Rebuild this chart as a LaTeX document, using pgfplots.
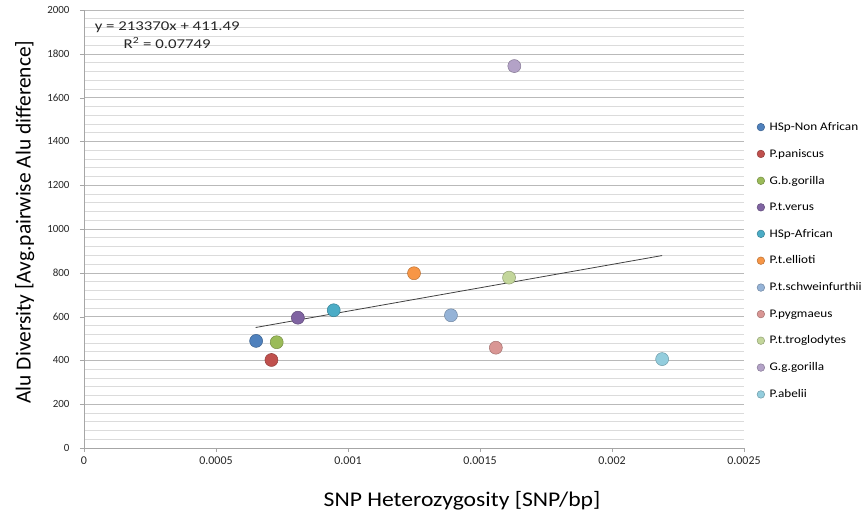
\documentclass[border=0pt]{standalone}
\usepackage{pgfplots}
\pgfplotsset{compat=1.18}
\usepackage{fontspec}
\setmainfont{Carlito}
\newfontfamily\widefont{Carlito}[FakeStretch=1.13]
\newfontfamily\widerfont{Carlito}[FakeStretch=1.25]

\definecolor{cA}{HTML}{4F81BD}
\definecolor{cB}{HTML}{C0504D}
\definecolor{cC}{HTML}{9BBB59}
\definecolor{cD}{HTML}{8064A2}
\definecolor{cE}{HTML}{4BACC6}
\definecolor{cF}{HTML}{F79646}
\definecolor{cG}{HTML}{95B3D7}
\definecolor{cH}{HTML}{D99694}
\definecolor{cI}{HTML}{C3D69B}
\definecolor{cJ}{HTML}{B3A2C7}
\definecolor{cK}{HTML}{93CDDD}

\pgfplotsset{
  sp/.style={only marks, mark=*, mark size=6.5bp,
    mark options={fill=#1, draw=#1!75!black, line width=0.5pt}},
}

\begin{document}
\begin{tikzpicture}
\begin{axis}[
  scale only axis,
  width=660bp, height=438bp,
  xmin=0, xmax=0.0025, ymin=0, ymax=2000,
  axis x line*=bottom, axis y line*=left,
  axis line style={draw=gray!70},
  xtick={0,0.0005,0.001,0.0015,0.002,0.0025},
  xticklabels={0,0.0005,0.001,0.0015,0.002,0.0025},
  ytick={0,200,...,2000},
  minor y tick num=4,
  ymajorgrids, yminorgrids,
  major grid style={draw=gray!55, line width=0.6pt},
  minor grid style={draw=gray!28, line width=0.6pt},
  major tick length=4bp, minor tick length=0pt,
  tick style={draw=gray!70},
  tick align=outside,
  scaled x ticks=false,
  /pgf/number format/assume math mode=true,
  /pgf/number format/1000 sep={},
  xticklabel style={font=\fontsize{12}{14}\selectfont, text=black!85, yshift=-1bp},
  yticklabel style={font=\fontsize{11}{13}\selectfont, text=black!85, xshift=-7bp},
  xlabel={SNP Heterozygosity [SNP/bp]},
  ylabel={Alu Diversity [Avg.pairwise Alu difference]},
  xlabel style={font=\widefont\fontsize{21}{24}\selectfont, yshift=-20bp, xshift=48bp},
  ylabel style={font=\fontsize{21.5}{24}\selectfont, yshift=6bp, xshift=7bp},
  legend cell align=left,
  legend style={at={(1.015,0.753)}, anchor=north west, draw=none, fill=none,
    font=\widefont\fontsize{11.7}{13}\selectfont, row sep=13.3bp,
    /tikz/every odd column/.append style={column sep=3bp}},
  legend image code/.code={\draw[#1, mark size=3.8bp, line width=0.3pt] plot coordinates {(0.14cm,0cm)};},
  clip=false,
]
% linear fit over the data range
\addplot[forget plot, draw=black!75, line width=0.8pt] coordinates {(0.00065,550.2) (0.00219,878.8)};

\addplot[sp=cA] coordinates {(0.000652,489)};
\addlegendentry{HSp-Non African}
\addplot[sp=cB] coordinates {(0.000710,402)};
\addlegendentry{P.paniscus}
\addplot[sp=cC] coordinates {(0.000730,483)};
\addlegendentry{G.b.gorilla}
\addplot[sp=cD] coordinates {(0.000810,595)};
\addlegendentry{P.t.verus}
\addplot[sp=cE] coordinates {(0.000946,629)};
\addlegendentry{HSp-African}
\addplot[sp=cF] coordinates {(0.001250,798)};
\addlegendentry{P.t.ellioti}
\addplot[sp=cG] coordinates {(0.001390,606)};
\addlegendentry{P.t.schweinfurthii}
\addplot[sp=cH] coordinates {(0.001560,458)};
\addlegendentry{P.pygmaeus}
\addplot[sp=cI] coordinates {(0.001610,778)};
\addlegendentry{P.t.troglodytes}
\addplot[sp=cJ] coordinates {(0.001630,1744)};
\addlegendentry{G.g.gorilla}
\addplot[sp=cK] coordinates {(0.002190,406)};
\addlegendentry{P.abelii}

\node[align=center, font=\widerfont\fontsize{13.5}{18}\selectfont, text=black!85]
  at (axis cs:0.000315,1884) {y = 213370x + 411.49\\R\textsuperscript{2} = 0.07749};
\end{axis}
\path (current axis.south west) ++(-84bp,-65bp) rectangle ++(868bp,513bp);
\end{tikzpicture}
\end{document}
